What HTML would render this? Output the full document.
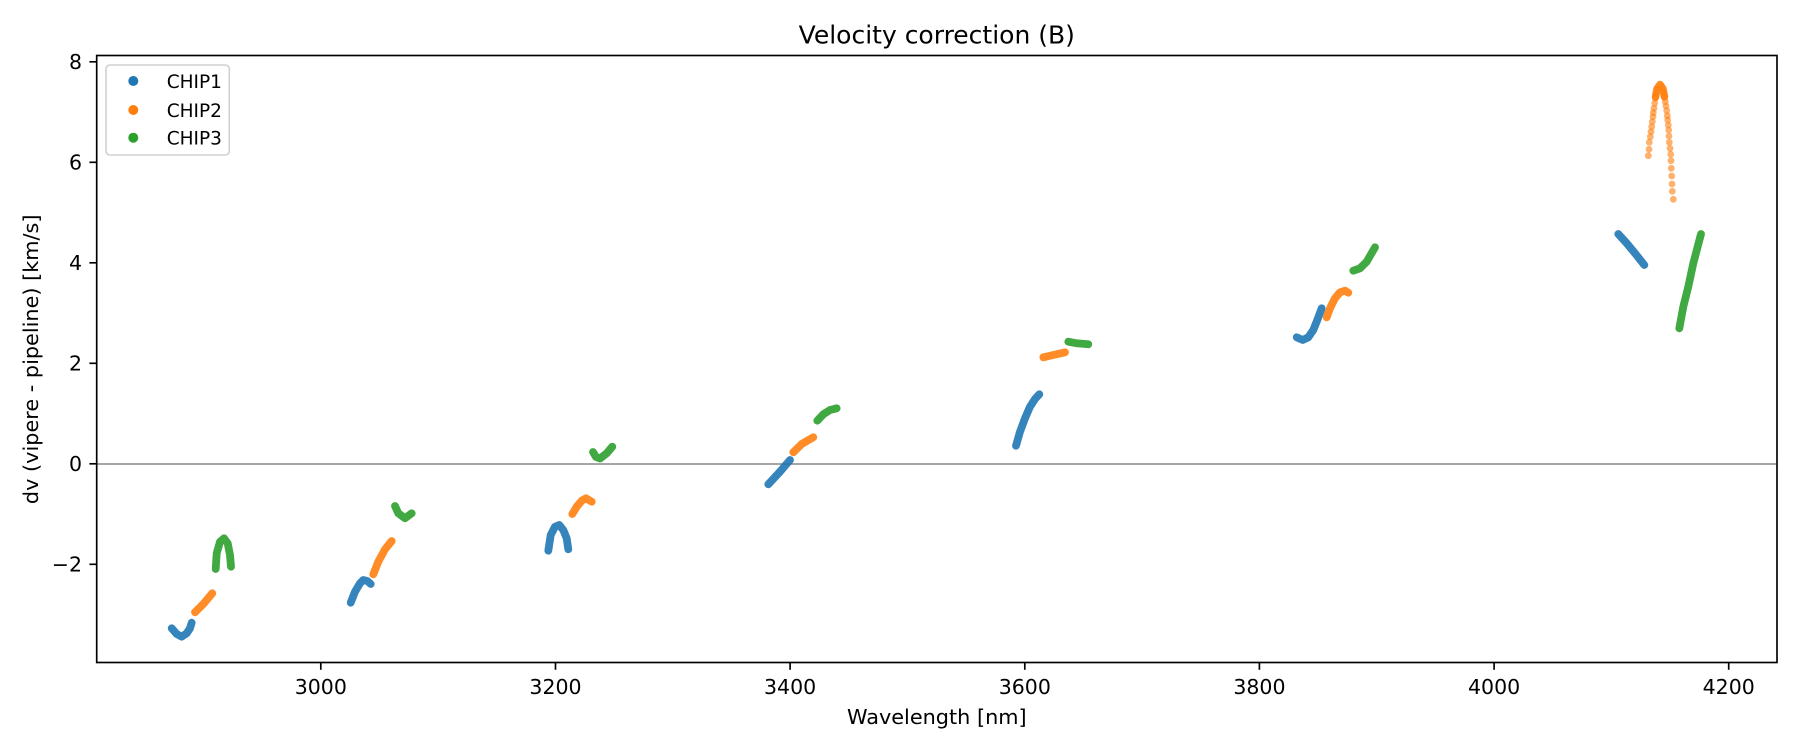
<!DOCTYPE html>
<html>
<head>
<meta charset="utf-8">
<style>
  html, body { margin: 0; padding: 0; background: #fff; }
  svg { display: block; }
  text { font-family: "DejaVu Sans", "Liberation Sans", sans-serif; fill: #000; }
</style>
</head>
<body>
<svg width="1800" height="750" viewBox="0 0 1800 750" xmlns="http://www.w3.org/2000/svg">
  <rect x="0" y="0" width="1800" height="750" fill="#fff"/>

  <!-- zero line -->
  <line x1="96.7" y1="464" x2="1777" y2="464" stroke="#707070" stroke-width="1.2"/>

  <!-- data series -->
  <g fill="none" stroke-linecap="round" stroke-linejoin="round" stroke-width="7.8" stroke-opacity="0.9">
    <!-- CHIP1 blue -->
    <g stroke="#1f77b4">
      <polyline points="171.7,628.3 176.7,634 181.7,636.7 186.7,633.3 190,628.3 191.7,622.7"/>
      <polyline points="350.7,602.7 355,591.7 360,583.3 363.3,580 367.3,581 370.7,584"/>
      <polyline points="548.3,550.7 550.7,535 555,526.7 559.3,525 563.3,530 566.7,538.3 568.3,549.3"/>
      <polyline points="768.3,484.3 780,471.7 790,460"/>
      <polyline points="1016,445.7 1020,431.7 1025,418.3 1030,406.7 1035,399 1039.3,394.3"/>
      <polyline points="1296.7,337.3 1302.7,340 1308.3,337.3 1313.3,330 1317.3,320 1321.7,308.3"/>
      <polyline points="1618.3,234 1626.7,243.3 1635,253.3 1644.3,265"/>
    </g>
    <!-- CHIP2 orange -->
    <g stroke="#ff7f0e">
      <polyline points="195,612.3 203.3,604 212.3,593.3"/>
      <polyline points="373.3,574.3 378.3,561.7 385,549.3 391.7,541"/>
      <polyline points="572.3,514 576.7,506.7 581.7,500.7 586,498.3 591.7,501.7"/>
      <polyline points="793.3,452.3 801.7,444 813.3,437.3"/>
      <polyline points="1043.3,357.3 1053.3,355 1065,352.3"/>
      <polyline points="1326.7,317.3 1330,308.3 1335,298.3 1340,292.3 1345,290.7 1348.3,292.7"/>
    </g>
    <!-- CHIP3 green -->
    <g stroke="#2ca02c">
      <polyline points="215.7,569 216.7,553.3 220,541.7 224,538.3 227.7,543.3 230,555 231,566.7"/>
      <polyline points="395,506 398.3,513.3 405,518.3 411.7,513.3"/>
      <polyline points="593,452 596,457 600,458.5 606.7,453.3 612.3,446.7"/>
      <polyline points="817.3,420.7 823.3,414.3 830,410 836.7,408.3"/>
      <polyline points="1068.3,341.7 1076.7,343.3 1088.3,344.3"/>
      <polyline points="1353.3,270.7 1360,268.3 1366.7,261.7 1375,247.3"/>
      <polyline points="1679.3,328.3 1683.3,306.7 1688.3,286.7 1693.3,263.3 1701,234"/>
    </g>
  </g>

  <!-- sparse orange arch (CHIP2 at ~4140) -->
  <g fill="#ff7f0e" fill-opacity="0.6">
    <circle cx="1648.3" cy="155.7" r="3.4"/>
    <circle cx="1649" cy="149.3" r="3.4"/>
    <circle cx="1649.3" cy="142.3" r="3.4"/>
    <circle cx="1650.3" cy="136.7" r="3.4"/>
    <circle cx="1651" cy="131.7" r="3.4"/>
    <circle cx="1651.7" cy="126.7" r="3.4"/>
    <circle cx="1652.3" cy="121.7" r="3.4"/>
    <circle cx="1653" cy="116.7" r="3.4"/>
    <circle cx="1653.3" cy="112.7" r="3.4"/>
    <circle cx="1654" cy="108.3" r="3.4"/>
    <circle cx="1654.7" cy="103.3" r="3.4"/>
    <circle cx="1655.3" cy="98.3" r="3.4"/>
    <circle cx="1656" cy="93.3" r="3.4"/>
    <circle cx="1657.3" cy="88.3" r="3.4"/>
    <circle cx="1661.7" cy="86.7" r="3.4"/>
    <circle cx="1663.3" cy="91.7" r="3.4"/>
    <circle cx="1664.3" cy="96.7" r="3.4"/>
    <circle cx="1665.3" cy="101.7" r="3.4"/>
    <circle cx="1666" cy="106" r="3.4"/>
    <circle cx="1666.7" cy="110.7" r="3.4"/>
    <circle cx="1667.3" cy="115.7" r="3.4"/>
    <circle cx="1667.7" cy="120" r="3.4"/>
    <circle cx="1668.3" cy="125" r="3.4"/>
    <circle cx="1668.7" cy="130" r="3.4"/>
    <circle cx="1669" cy="136" r="3.4"/>
    <circle cx="1669.3" cy="142.3" r="3.4"/>
    <circle cx="1670" cy="148.3" r="3.4"/>
    <circle cx="1670.7" cy="154.3" r="3.4"/>
    <circle cx="1671" cy="160.7" r="3.4"/>
    <circle cx="1671.3" cy="168.3" r="3.4"/>
    <circle cx="1671.7" cy="176" r="3.4"/>
    <circle cx="1672" cy="184" r="3.4"/>
    <circle cx="1672.3" cy="191.3" r="3.4"/>
    <circle cx="1673.3" cy="199.3" r="3.4"/>
  </g>
  <polyline points="1655.5,97 1657,89 1660,84.5 1663,89 1664.5,97" fill="none" stroke="#ff7f0e" stroke-width="7.5" stroke-linecap="round" stroke-linejoin="round" stroke-opacity="0.9"/>

  <!-- axes spines -->
  <rect x="96.7" y="55.5" width="1680.3" height="607" fill="none" stroke="#000" stroke-width="1.67"/>

  <!-- y ticks -->
  <g stroke="#000" stroke-width="1.67">
    <line x1="89.4" y1="564.3" x2="96.7" y2="564.3"/>
    <line x1="89.4" y1="463.8" x2="96.7" y2="463.8"/>
    <line x1="89.4" y1="363.3" x2="96.7" y2="363.3"/>
    <line x1="89.4" y1="262.8" x2="96.7" y2="262.8"/>
    <line x1="89.4" y1="162.3" x2="96.7" y2="162.3"/>
    <line x1="89.4" y1="61.8" x2="96.7" y2="61.8"/>
  </g>
  <g font-size="20.5" text-anchor="end">
    <text x="82" y="571.6">−2</text>
    <text x="82" y="471.1">0</text>
    <text x="82" y="370.6">2</text>
    <text x="82" y="270.1">4</text>
    <text x="82" y="169.6">6</text>
    <text x="82" y="69.1">8</text>
  </g>

  <!-- x ticks -->
  <g stroke="#000" stroke-width="1.67">
    <line x1="320.8" y1="662.5" x2="320.8" y2="669.8"/>
    <line x1="555.5" y1="662.5" x2="555.5" y2="669.8"/>
    <line x1="790.1" y1="662.5" x2="790.1" y2="669.8"/>
    <line x1="1024.8" y1="662.5" x2="1024.8" y2="669.8"/>
    <line x1="1259.4" y1="662.5" x2="1259.4" y2="669.8"/>
    <line x1="1494.1" y1="662.5" x2="1494.1" y2="669.8"/>
    <line x1="1728.7" y1="662.5" x2="1728.7" y2="669.8"/>
  </g>
  <g font-size="20.5" text-anchor="middle">
    <text x="320.8" y="694">3000</text>
    <text x="555.5" y="694">3200</text>
    <text x="790.1" y="694">3400</text>
    <text x="1024.8" y="694">3600</text>
    <text x="1259.4" y="694">3800</text>
    <text x="1494.1" y="694">4000</text>
    <text x="1728.7" y="694">4200</text>
  </g>

  <!-- axis labels -->
  <text x="936.8" y="724" font-size="20.8" text-anchor="middle">Wavelength [nm]</text>
  <text transform="translate(38,359.3) rotate(-90)" font-size="20.8" text-anchor="middle">dv (vipere - pipeline) [km/s]</text>

  <!-- title -->
  <text x="936.8" y="43.3" font-size="25" text-anchor="middle">Velocity correction (B)</text>

  <!-- legend -->
  <rect x="106" y="65" width="123.3" height="90" rx="4" ry="4" fill="#fff" fill-opacity="0.8" stroke="#d0d0d0" stroke-width="1.6"/>
  <circle cx="133.3" cy="81" r="5" fill="#1f77b4"/>
  <circle cx="133.3" cy="110" r="5" fill="#ff7f0e"/>
  <circle cx="133.3" cy="137.7" r="5" fill="#2ca02c"/>
  <g font-size="18.5">
    <text x="166.7" y="88">CHIP1</text>
    <text x="166.7" y="117">CHIP2</text>
    <text x="166.7" y="144.5">CHIP3</text>
  </g>
</svg>
</body>
</html>
